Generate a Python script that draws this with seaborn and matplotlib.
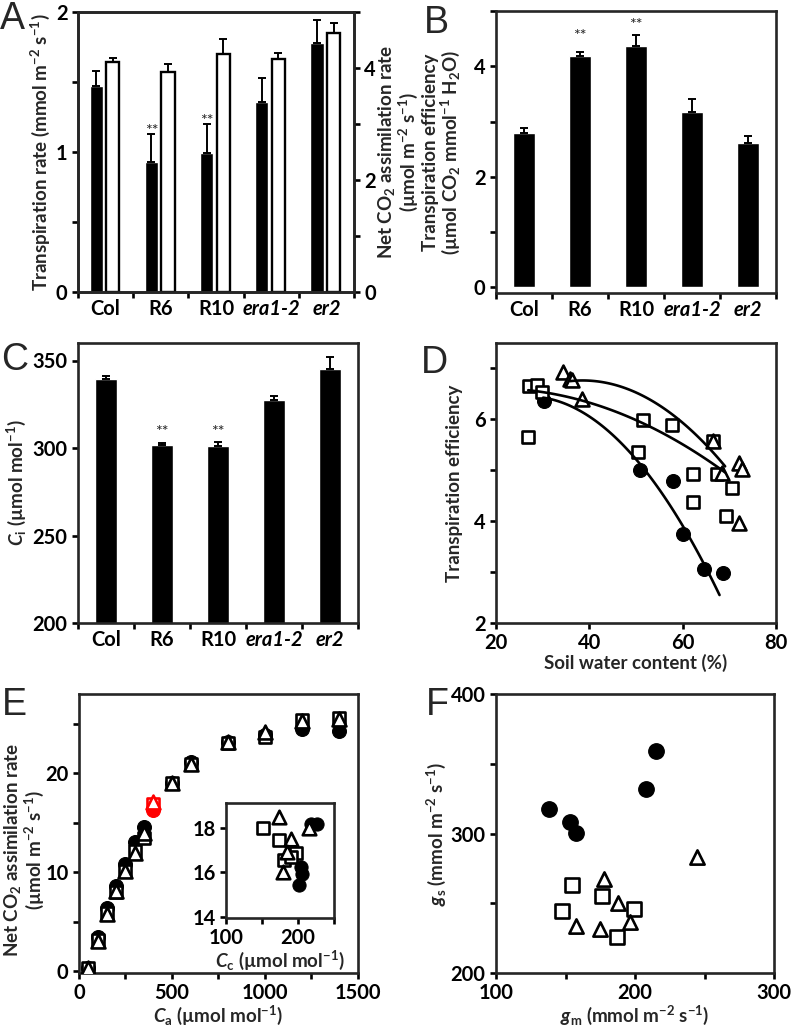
import numpy as np
import matplotlib
matplotlib.use("Agg")
import matplotlib.pyplot as plt
import seaborn as sns

# ---- data ----
lines = ["Col", "R6", "R10", "era1-2", "er2"]

# A: transpiration (left axis, black) and net CO2 assimilation (right axis, white)
transp = [1.47, 0.93, 0.995, 1.36, 1.78]
transp_err = [0.11, 0.20, 0.205, 0.17, 0.16]
assim = [4.11, 3.92, 4.25, 4.16, 4.63]
assim_err = [0.07, 0.16, 0.27, 0.11, 0.18]
stars_A = [None, 1.15, 1.22, None, None]

# B: transpiration efficiency
te = [2.79, 4.18, 4.36, 3.17, 2.61]
te_err = [0.09, 0.08, 0.21, 0.24, 0.13]
stars_B = [None, 4.55, 4.74, None, None]

# C: Ci
ci = [339.6, 301.9, 300.9, 327.6, 345.1]
ci_err = [1.7, 1.0, 2.5, 2.4, 6.7]
stars_C = [None, 309, 309, None, None]

# D: TE vs soil water content
d_circ_x = [30.2, 50.9, 58.0, 60.0, 64.6, 68.6]
d_circ_y = [6.37, 5.00, 4.79, 3.75, 3.06, 2.99]
d_sq_x = [26.8, 27.1, 28.7, 29.8, 50.5, 51.6, 57.7, 62.2, 62.2, 66.6, 67.3, 70.6, 69.3]
d_sq_y = [5.66, 6.65, 6.68, 6.53, 5.35, 5.99, 5.89, 4.92, 4.37, 5.58, 4.92, 4.66, 4.10]
d_tri_x = [34.4, 35.9, 36.2, 38.5, 66.6, 68.4, 72.0, 72.7, 72.0]
d_tri_y = [6.94, 6.80, 6.77, 6.40, 5.58, 4.95, 5.15, 5.03, 3.96]
# points on the fitted curves
fit_circ_x = [30.1, 40.2, 47.3, 52.3, 58.8, 64.5, 67.9]
fit_circ_y = [6.38, 6.08, 5.62, 4.96, 3.90, 3.11, 2.68]
fit_sq_x = [26.9, 38.0, 48.7, 58.0, 65.2, 69.1]
fit_sq_y = [6.57, 6.38, 6.05, 5.62, 5.16, 4.99]
fit_tri_x = [35.9, 42.3, 50.9, 58.8, 65.2, 69.1]
fit_tri_y = [6.77, 6.71, 6.48, 6.05, 5.49, 5.06]

# E: A/Ca curves
ca = [50, 100, 150, 200, 250, 300, 350, 400, 500, 600, 800, 1000, 1200, 1400]
e_circ = [0.3, 3.4, 6.4, 8.6, 10.8, 13.0, 14.6, 16.3, 19.0, 21.1, 23.1, 23.9, 24.5, 24.3]
e_sq = [0.3, 3.1, 5.9, 8.0, 10.1, 12.1, 13.4, 16.9, 19.0, 20.9, 23.0, 23.7, 25.4, 25.6]
e_tri = [0.3, 3.0, 5.8, 8.1, 10.1, 11.9, 14.0, 17.1, 19.0, 20.9, 23.1, 24.2, 25.3, 25.5]
ca_highlight = 400

# E inset: A vs Cc
cc_circ = [217.4, 226.4, 203.7, 205.9, 201.4]
a_circ = [18.18, 18.18, 16.24, 15.94, 15.42]
cc_sq = [151.1, 174.0, 196.8, 180.8, 190.0]
a_sq = [17.96, 17.43, 16.84, 16.54, 16.70]
cc_tri = [174.0, 190.0, 185.4, 178.5, 215.1]
a_tri = [18.47, 17.51, 16.91, 16.01, 17.96]

# F: gs vs gm
f_circ_x = [137.9, 153.2, 157.3, 208.1, 214.8]
f_circ_y = [317.9, 308.6, 300.2, 332.0, 359.4]
f_sq_x = [154.9, 147.3, 176.4, 199.3, 187.1]
f_sq_y = [263.2, 244.6, 255.4, 245.6, 225.8]
f_tri_x = [177.6, 187.6, 157.3, 174.7, 196.2, 244.6]
f_tri_y = [267.5, 250.1, 233.9, 231.5, 236.3, 282.8]

# ---- style ----
sns.set_style("ticks")
plt.rcParams["font.family"] = ["Lato", "DejaVu Sans"]
plt.rcParams["font.weight"] = "bold"
plt.rcParams["axes.labelweight"] = "bold"
plt.rcParams["font.size"] = 13.5
plt.rcParams["axes.labelsize"] = 13.5
plt.rcParams["mathtext.fontset"] = "custom"
plt.rcParams["mathtext.rm"] = "Lato:bold"
plt.rcParams["mathtext.bf"] = "Lato:bold"
plt.rcParams["mathtext.it"] = "Lato:italic:bold"
plt.rcParams["mathtext.default"] = "bf"
plt.rcParams["axes.linewidth"] = 1.9
for a in ("xtick", "ytick"):
    plt.rcParams[a + ".major.width"] = 1.9
    plt.rcParams[a + ".major.size"] = 4
    plt.rcParams[a + ".direction"] = "out"
    plt.rcParams[a + ".color"] = "black"
    plt.rcParams[a + ".labelsize"] = 14.5

fig = plt.figure(figsize=(7.93, 10.27), dpi=100)

W, H = 793, 1027
def px_axes(x0, y0, x1, y1):
    return fig.add_axes([x0 / W, 1 - y1 / H, (x1 - x0) / W, (y1 - y0) / H])

def cat_axis(ax):
    ax.set_xlim(-0.5, 4.5)
    ax.set_xticks(np.arange(-0.5, 5, 1), labels=[])
    ax.set_xticks(range(5), labels=lines, minor=True)
    ax.tick_params(axis="x", which="minor", length=0, pad=5)
    for lab in ax.get_xticklabels(minor=True)[3:]:
        lab.set_style("italic")
    ax.set_xlabel("")

def stars(ax, xs, ys):
    for x, y in zip(xs, ys):
        if y is not None:
            ax.text(x, y, "**", ha="center", va="center", fontsize=11.5,
                    fontweight="normal")

def letter(x, y, s):
    fig.text(x / W, 1 - y / H, s, fontsize=27, fontweight="normal",
             family="Liberation Sans", ha="left", va="center")

ebar = dict(fmt="none", ecolor="black", elinewidth=1.4, capsize=3, capthick=1.4)
pos = np.arange(5)

# ---- A ----
axA = px_axes(78, 12, 354, 292)
axA2 = axA.twinx()
sns.barplot(x=pos - 0.17, y=transp, native_scale=True, width=0.24,
            color="black", saturation=1, ax=axA)
axA.errorbar(pos - 0.17, transp, yerr=[np.zeros(5), transp_err], **ebar)
sns.barplot(x=pos + 0.13, y=assim, native_scale=True, width=0.24,
            color="white", edgecolor="black", linewidth=1.7, saturation=1, ax=axA2)
axA2.errorbar(pos + 0.13, assim, yerr=[np.zeros(5), assim_err], **ebar)
stars(axA, pos - 0.17, stars_A)
cat_axis(axA)
axA2.set_xlim(-0.5, 4.5)
axA.set_ylim(0, 2)
axA.set_yticks([0, 0.5, 1, 1.5, 2], labels=["0", "", "1", "", "2"])
axA2.set_ylim(0, 5)
axA2.set_yticks([0, 1, 2, 3, 4, 5], labels=["0", "", "2", "", "4", ""])
axA.set_ylabel("Transpiration rate (mmol m$^{-2}$ s$^{-1}$)", labelpad=3)
axA2.set_ylabel("Net CO$_2$ assimilation rate\n(µmol m$^{-2}$ s$^{-1}$)",
                linespacing=1.0)
axA2.yaxis.set_label_coords(1.08, 0.5)
letter(0, 19, "A")

# ---- B ----
axB = px_axes(496, 11, 776, 293)
sns.barplot(x=lines, y=te, width=0.4, color="black", saturation=1, ax=axB)
axB.errorbar(pos, te, yerr=[np.zeros(5), te_err], **ebar)
stars(axB, pos, stars_B)
cat_axis(axB)
axB.set_ylim(-0.1, 5)
axB.set_yticks([0, 1, 2, 3, 4, 5], labels=["0", "", "2", "", "4", ""])
axB.set_ylabel("Transpiration efficiency\n(µmol CO$_2$ mmol$^{-1}$ H$_2$O)",
               linespacing=1.0)
axB.yaxis.set_label_coords(-0.12, 0.5)
letter(424, 23, "B")

# ---- C ----
axC = px_axes(78, 343, 358, 623)
sns.barplot(x=lines, y=ci, width=0.4, color="black", saturation=1, ax=axC)
axC.errorbar(pos, ci, yerr=[np.zeros(5), ci_err], **ebar)
stars(axC, pos, stars_C)
cat_axis(axC)
axC.set_ylim(200, 360)
axC.set_yticks([200, 250, 300, 350])
axC.set_ylabel("$\\mathit{C}_\\mathrm{i}$ (µmol mol$^{-1}$)", labelpad=3)
letter(1, 360, "C")

# ---- D ----
open_kw = dict(color="white", edgecolor="black", linewidth=1.9)
axD = px_axes(496, 343, 776, 623)
sns.scatterplot(x=d_circ_x, y=d_circ_y, marker="o", color="black", s=100,
                edgecolor="black", ax=axD, zorder=2)
sns.scatterplot(x=d_sq_x, y=d_sq_y, marker="s", s=85, ax=axD, zorder=3, **open_kw)
sns.scatterplot(x=d_tri_x, y=d_tri_y, marker="^", s=100, ax=axD, zorder=3, **open_kw)
for fx, fy in ((fit_circ_x, fit_circ_y), (fit_sq_x, fit_sq_y), (fit_tri_x, fit_tri_y)):
    sns.regplot(x=fx, y=fy, order=2, ci=None, scatter=False, ax=axD,
                line_kws=dict(color="black", lw=1.9, zorder=4))
axD.set_xlim(20, 80)
axD.set_xticks([20, 40, 60, 80])
axD.set_ylim(2, 7.5)
axD.set_yticks([2, 3, 4, 5, 6, 7], labels=["2", "", "4", "", "6", ""])
axD.set_xlabel("Soil water content (%)", labelpad=0)
axD.set_ylabel("Transpiration efficiency", labelpad=8)
letter(421, 363, "D")

# ---- E ----
axE = px_axes(79, 694, 358, 973)
red_mask = np.array(ca) == ca_highlight
ca_arr = np.array(ca)
for yv, mk, sz, filled in ((e_circ, "o", 100, True), (e_sq, "s", 85, False),
                           (e_tri, "^", 100, False)):
    yv = np.array(yv)
    for mask, col in ((~red_mask, "black"), (red_mask, "red")):
        if filled:
            sns.scatterplot(x=ca_arr[mask], y=yv[mask], marker=mk, s=sz,
                            color=col, edgecolor=col, ax=axE, zorder=3)
        else:
            sns.scatterplot(x=ca_arr[mask], y=yv[mask], marker=mk, s=sz,
                            color="white", edgecolor=col, linewidth=1.9,
                            ax=axE, zorder=3)
axE.set_xlim(0, 1500)
axE.set_xticks(np.arange(0, 1501, 250),
               labels=["0", "", "500", "", "1000", "", "1500"])
axE.set_ylim(-0.2, 28)
axE.set_yticks([0, 5, 10, 15, 20, 25], labels=["0", "", "10", "", "20", ""])
axE.set_xlabel("$\\mathit{C}_\\mathrm{a}$ (µmol mol$^{-1}$)", labelpad=0)
axE.set_ylabel("Net CO$_2$ assimilation rate\n(µmol m$^{-2}$ s$^{-1}$)",
               linespacing=1.0)
axE.yaxis.set_label_coords(-0.118, 0.44)
letter(2, 705, "E")

axI = px_axes(226, 803, 334, 918)
sns.scatterplot(x=cc_circ, y=a_circ, marker="o", color="black", s=90,
                edgecolor="black", ax=axI, zorder=2)
sns.scatterplot(x=cc_sq, y=a_sq, marker="s", s=80, ax=axI, zorder=3, **open_kw)
sns.scatterplot(x=cc_tri, y=a_tri, marker="^", s=95, ax=axI, zorder=3, **open_kw)
axI.set_xlim(100, 250)
axI.set_xticks([100, 150, 200, 250], labels=["100", "", "200", ""])
axI.set_ylim(13.95, 19.1)
axI.set_yticks([14, 16, 18])
axI.set_xlabel("$\\mathit{C}_\\mathrm{c}$ (µmol mol$^{-1}$)", labelpad=0)

# ---- F ----
axF = px_axes(496, 694, 774, 973)
sns.scatterplot(x=f_circ_x, y=f_circ_y, marker="o", color="black", s=125,
                edgecolor="black", ax=axF)
sns.scatterplot(x=f_sq_x, y=f_sq_y, marker="s", s=90, ax=axF, **open_kw)
sns.scatterplot(x=f_tri_x, y=f_tri_y, marker="^", s=105, ax=axF, **open_kw)
axF.set_xlim(100, 300)
axF.set_xticks([100, 150, 200, 250, 300], labels=["100", "", "200", "", "300"])
axF.set_ylim(200, 400)
axF.set_yticks([200, 250, 300, 350, 400], labels=["200", "", "300", "", "400"])
axF.set_xlabel("$\\mathit{g}_\\mathrm{m}$ (mmol m$^{-2}$ s$^{-1}$)", labelpad=0)
axF.set_ylabel("$\\mathit{g}_\\mathrm{s}$ (mmol m$^{-2}$ s$^{-1}$)", labelpad=2)
letter(426, 705, "F")

fig.savefig("out.png", dpi=100)
